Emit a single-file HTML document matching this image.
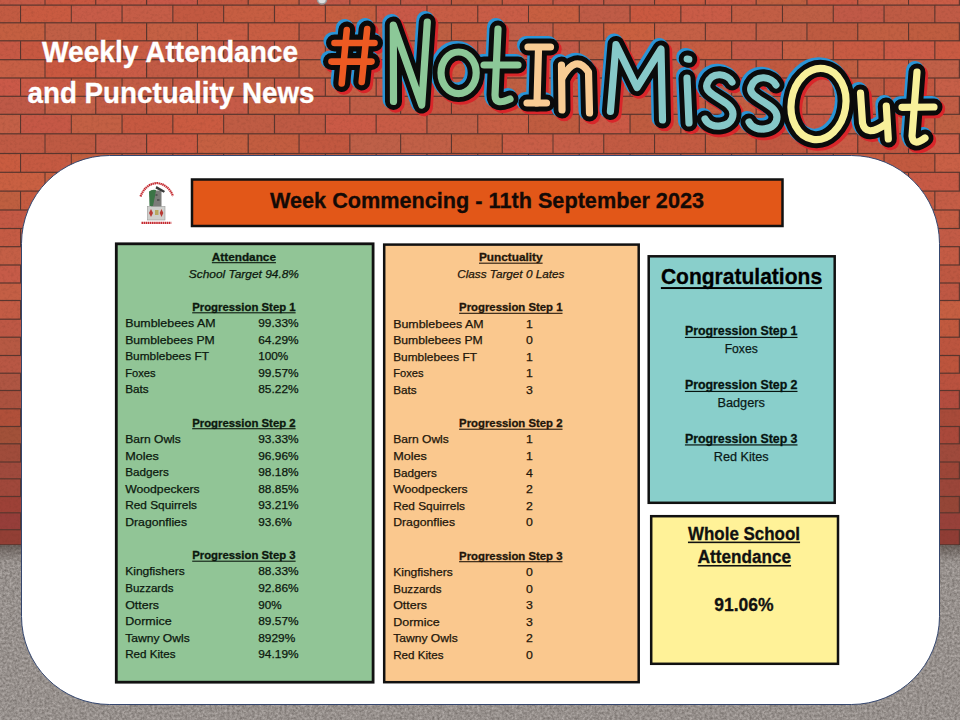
<!DOCTYPE html>
<html><head><meta charset="utf-8">
<style>
html,body{margin:0;padding:0;width:960px;height:720px;overflow:hidden;background:#8c8480}
svg{display:block}
text{font-family:"Liberation Sans",sans-serif}
</style></head><body>
<svg width="960" height="720" viewBox="0 0 960 720">
<defs>
<filter id="noise" x="0" y="0" width="100%" height="100%" color-interpolation-filters="sRGB">
<feTurbulence type="fractalNoise" baseFrequency="0.4" numOctaves="4" seed="5" result="n"/>
<feColorMatrix type="matrix" values="0.32 0 0 0 0.43  0.32 0 0 0 0.405  0.32 0 0 0 0.39  0 0 0 0 1"/>
</filter>
<filter id="bnoise" x="0" y="0" width="100%" height="100%" color-interpolation-filters="sRGB">
<feTurbulence type="fractalNoise" baseFrequency="0.35" numOctaves="3" seed="11"/>
<feColorMatrix type="matrix" values="0 0 0 0 0.42  0 0 0 0 0.2  0 0 0 0 0.14  2.2 0 0 0 -1.0"/>
</filter>
</defs>
<rect x="0" y="0" width="960" height="546" fill="#5a362e"/>
<rect x="-5.2" y="-12.7" width="49.7" height="17.2" fill="rgb(195,90,70)"/><rect x="45.5" y="-12.7" width="49.7" height="17.2" fill="rgb(200,88,65)"/><rect x="96.3" y="-12.7" width="49.7" height="17.2" fill="rgb(198,89,69)"/><rect x="147.2" y="-12.7" width="49.7" height="17.2" fill="rgb(199,88,72)"/><rect x="197.9" y="-12.7" width="49.7" height="17.2" fill="rgb(193,88,65)"/><rect x="248.8" y="-12.7" width="49.7" height="17.2" fill="rgb(196,94,65)"/><rect x="299.6" y="-12.7" width="49.7" height="17.2" fill="rgb(193,89,72)"/><rect x="350.4" y="-12.7" width="49.7" height="17.2" fill="rgb(196,88,65)"/><rect x="401.2" y="-12.7" width="49.7" height="17.2" fill="rgb(193,88,70)"/><rect x="452.0" y="-12.7" width="49.7" height="17.2" fill="rgb(190,91,64)"/><rect x="502.8" y="-12.7" width="49.7" height="17.2" fill="rgb(198,90,68)"/><rect x="553.5" y="-12.7" width="49.7" height="17.2" fill="rgb(196,90,72)"/><rect x="604.3" y="-12.7" width="49.7" height="17.2" fill="rgb(191,92,72)"/><rect x="655.1" y="-12.7" width="49.7" height="17.2" fill="rgb(200,90,65)"/><rect x="705.9" y="-12.7" width="49.7" height="17.2" fill="rgb(199,91,69)"/><rect x="756.7" y="-12.7" width="49.7" height="17.2" fill="rgb(191,96,65)"/><rect x="807.5" y="-12.7" width="49.7" height="17.2" fill="rgb(199,88,67)"/><rect x="858.3" y="-12.7" width="49.7" height="17.2" fill="rgb(197,96,70)"/><rect x="909.1" y="-12.7" width="49.7" height="17.2" fill="rgb(202,93,71)"/><rect x="959.9" y="-12.7" width="49.7" height="17.2" fill="rgb(199,95,69)"/><rect x="-29.7" y="5.7" width="49.7" height="16.5" fill="rgb(194,91,66)"/><rect x="21.1" y="5.7" width="49.7" height="16.5" fill="rgb(201,91,65)"/><rect x="71.8" y="5.7" width="49.7" height="16.5" fill="rgb(199,92,72)"/><rect x="122.6" y="5.7" width="49.7" height="16.5" fill="rgb(197,93,71)"/><rect x="173.4" y="5.7" width="49.7" height="16.5" fill="rgb(194,89,65)"/><rect x="224.2" y="5.7" width="49.7" height="16.5" fill="rgb(198,94,66)"/><rect x="275.1" y="5.7" width="49.7" height="16.5" fill="rgb(202,93,66)"/><rect x="325.9" y="5.7" width="49.7" height="16.5" fill="rgb(197,94,64)"/><rect x="376.7" y="5.7" width="49.7" height="16.5" fill="rgb(200,89,72)"/><rect x="427.5" y="5.7" width="49.7" height="16.5" fill="rgb(199,93,69)"/><rect x="478.3" y="5.7" width="49.7" height="16.5" fill="rgb(201,93,71)"/><rect x="529.0" y="5.7" width="49.7" height="16.5" fill="rgb(199,95,65)"/><rect x="579.8" y="5.7" width="49.7" height="16.5" fill="rgb(191,92,71)"/><rect x="630.6" y="5.7" width="49.7" height="16.5" fill="rgb(201,89,64)"/><rect x="681.4" y="5.7" width="49.7" height="16.5" fill="rgb(201,92,71)"/><rect x="732.2" y="5.7" width="49.7" height="16.5" fill="rgb(194,94,69)"/><rect x="783.0" y="5.7" width="49.7" height="16.5" fill="rgb(190,95,69)"/><rect x="833.8" y="5.7" width="49.7" height="16.5" fill="rgb(192,89,71)"/><rect x="884.6" y="5.7" width="49.7" height="16.5" fill="rgb(190,91,68)"/><rect x="935.4" y="5.7" width="49.7" height="16.5" fill="rgb(192,91,70)"/><rect x="-5.2" y="23.4" width="49.7" height="16.8" fill="rgb(196,95,65)"/><rect x="45.5" y="23.4" width="49.7" height="16.8" fill="rgb(192,95,70)"/><rect x="96.3" y="23.4" width="49.7" height="16.8" fill="rgb(198,92,66)"/><rect x="147.2" y="23.4" width="49.7" height="16.8" fill="rgb(196,96,68)"/><rect x="197.9" y="23.4" width="49.7" height="16.8" fill="rgb(201,94,69)"/><rect x="248.8" y="23.4" width="49.7" height="16.8" fill="rgb(200,94,67)"/><rect x="299.6" y="23.4" width="49.7" height="16.8" fill="rgb(192,89,66)"/><rect x="350.4" y="23.4" width="49.7" height="16.8" fill="rgb(192,91,67)"/><rect x="401.2" y="23.4" width="49.7" height="16.8" fill="rgb(190,95,66)"/><rect x="452.0" y="23.4" width="49.7" height="16.8" fill="rgb(194,92,64)"/><rect x="502.8" y="23.4" width="49.7" height="16.8" fill="rgb(192,94,72)"/><rect x="553.5" y="23.4" width="49.7" height="16.8" fill="rgb(195,93,66)"/><rect x="604.3" y="23.4" width="49.7" height="16.8" fill="rgb(201,96,64)"/><rect x="655.1" y="23.4" width="49.7" height="16.8" fill="rgb(197,96,70)"/><rect x="705.9" y="23.4" width="49.7" height="16.8" fill="rgb(196,94,70)"/><rect x="756.7" y="23.4" width="49.7" height="16.8" fill="rgb(191,95,70)"/><rect x="807.5" y="23.4" width="49.7" height="16.8" fill="rgb(190,91,65)"/><rect x="858.3" y="23.4" width="49.7" height="16.8" fill="rgb(193,95,66)"/><rect x="909.1" y="23.4" width="49.7" height="16.8" fill="rgb(191,93,64)"/><rect x="959.9" y="23.4" width="49.7" height="16.8" fill="rgb(191,88,66)"/><rect x="-29.7" y="41.4" width="49.7" height="17.7" fill="rgb(198,89,69)"/><rect x="21.1" y="41.4" width="49.7" height="17.7" fill="rgb(199,88,65)"/><rect x="71.8" y="41.4" width="49.7" height="17.7" fill="rgb(193,94,66)"/><rect x="122.6" y="41.4" width="49.7" height="17.7" fill="rgb(200,92,69)"/><rect x="173.4" y="41.4" width="49.7" height="17.7" fill="rgb(199,93,71)"/><rect x="224.2" y="41.4" width="49.7" height="17.7" fill="rgb(191,89,71)"/><rect x="275.1" y="41.4" width="49.7" height="17.7" fill="rgb(197,95,71)"/><rect x="325.9" y="41.4" width="49.7" height="17.7" fill="rgb(194,89,66)"/><rect x="376.7" y="41.4" width="49.7" height="17.7" fill="rgb(191,93,68)"/><rect x="427.5" y="41.4" width="49.7" height="17.7" fill="rgb(197,90,72)"/><rect x="478.3" y="41.4" width="49.7" height="17.7" fill="rgb(190,91,72)"/><rect x="529.0" y="41.4" width="49.7" height="17.7" fill="rgb(195,90,72)"/><rect x="579.8" y="41.4" width="49.7" height="17.7" fill="rgb(190,96,68)"/><rect x="630.6" y="41.4" width="49.7" height="17.7" fill="rgb(200,89,68)"/><rect x="681.4" y="41.4" width="49.7" height="17.7" fill="rgb(198,93,66)"/><rect x="732.2" y="41.4" width="49.7" height="17.7" fill="rgb(195,91,72)"/><rect x="783.0" y="41.4" width="49.7" height="17.7" fill="rgb(198,96,69)"/><rect x="833.8" y="41.4" width="49.7" height="17.7" fill="rgb(200,91,67)"/><rect x="884.6" y="41.4" width="49.7" height="17.7" fill="rgb(202,91,70)"/><rect x="935.4" y="41.4" width="49.7" height="17.7" fill="rgb(201,91,67)"/><rect x="-5.2" y="60.3" width="49.7" height="17.1" fill="rgb(198,95,69)"/><rect x="45.5" y="60.3" width="49.7" height="17.1" fill="rgb(201,88,64)"/><rect x="96.3" y="60.3" width="49.7" height="17.1" fill="rgb(202,92,71)"/><rect x="147.2" y="60.3" width="49.7" height="17.1" fill="rgb(194,91,69)"/><rect x="197.9" y="60.3" width="49.7" height="17.1" fill="rgb(197,93,69)"/><rect x="248.8" y="60.3" width="49.7" height="17.1" fill="rgb(191,91,65)"/><rect x="299.6" y="60.3" width="49.7" height="17.1" fill="rgb(193,95,67)"/><rect x="350.4" y="60.3" width="49.7" height="17.1" fill="rgb(195,91,71)"/><rect x="401.2" y="60.3" width="49.7" height="17.1" fill="rgb(199,88,71)"/><rect x="452.0" y="60.3" width="49.7" height="17.1" fill="rgb(200,93,65)"/><rect x="502.8" y="60.3" width="49.7" height="17.1" fill="rgb(200,89,70)"/><rect x="553.5" y="60.3" width="49.7" height="17.1" fill="rgb(202,91,71)"/><rect x="604.3" y="60.3" width="49.7" height="17.1" fill="rgb(192,94,69)"/><rect x="655.1" y="60.3" width="49.7" height="17.1" fill="rgb(191,94,71)"/><rect x="705.9" y="60.3" width="49.7" height="17.1" fill="rgb(196,89,66)"/><rect x="756.7" y="60.3" width="49.7" height="17.1" fill="rgb(192,90,64)"/><rect x="807.5" y="60.3" width="49.7" height="17.1" fill="rgb(192,95,66)"/><rect x="858.3" y="60.3" width="49.7" height="17.1" fill="rgb(199,95,69)"/><rect x="909.1" y="60.3" width="49.7" height="17.1" fill="rgb(192,96,72)"/><rect x="959.9" y="60.3" width="49.7" height="17.1" fill="rgb(192,88,64)"/><rect x="-29.7" y="78.6" width="49.7" height="17.1" fill="rgb(202,89,72)"/><rect x="21.1" y="78.6" width="49.7" height="17.1" fill="rgb(201,90,70)"/><rect x="71.8" y="78.6" width="49.7" height="17.1" fill="rgb(193,91,64)"/><rect x="122.6" y="78.6" width="49.7" height="17.1" fill="rgb(194,91,68)"/><rect x="173.4" y="78.6" width="49.7" height="17.1" fill="rgb(198,91,69)"/><rect x="224.2" y="78.6" width="49.7" height="17.1" fill="rgb(194,96,70)"/><rect x="275.1" y="78.6" width="49.7" height="17.1" fill="rgb(192,88,69)"/><rect x="325.9" y="78.6" width="49.7" height="17.1" fill="rgb(197,96,70)"/><rect x="376.7" y="78.6" width="49.7" height="17.1" fill="rgb(198,90,72)"/><rect x="427.5" y="78.6" width="49.7" height="17.1" fill="rgb(192,96,72)"/><rect x="478.3" y="78.6" width="49.7" height="17.1" fill="rgb(190,95,66)"/><rect x="529.0" y="78.6" width="49.7" height="17.1" fill="rgb(199,88,66)"/><rect x="579.8" y="78.6" width="49.7" height="17.1" fill="rgb(192,90,71)"/><rect x="630.6" y="78.6" width="49.7" height="17.1" fill="rgb(199,89,72)"/><rect x="681.4" y="78.6" width="49.7" height="17.1" fill="rgb(190,93,72)"/><rect x="732.2" y="78.6" width="49.7" height="17.1" fill="rgb(198,96,71)"/><rect x="783.0" y="78.6" width="49.7" height="17.1" fill="rgb(202,89,72)"/><rect x="833.8" y="78.6" width="49.7" height="17.1" fill="rgb(190,91,67)"/><rect x="884.6" y="78.6" width="49.7" height="17.1" fill="rgb(194,88,65)"/><rect x="935.4" y="78.6" width="49.7" height="17.1" fill="rgb(198,95,72)"/><rect x="-5.2" y="96.9" width="49.7" height="16.8" fill="rgb(190,89,71)"/><rect x="45.5" y="96.9" width="49.7" height="16.8" fill="rgb(195,96,72)"/><rect x="96.3" y="96.9" width="49.7" height="16.8" fill="rgb(193,92,71)"/><rect x="147.2" y="96.9" width="49.7" height="16.8" fill="rgb(198,96,71)"/><rect x="197.9" y="96.9" width="49.7" height="16.8" fill="rgb(198,91,72)"/><rect x="248.8" y="96.9" width="49.7" height="16.8" fill="rgb(194,96,67)"/><rect x="299.6" y="96.9" width="49.7" height="16.8" fill="rgb(197,90,70)"/><rect x="350.4" y="96.9" width="49.7" height="16.8" fill="rgb(191,94,71)"/><rect x="401.2" y="96.9" width="49.7" height="16.8" fill="rgb(195,89,67)"/><rect x="452.0" y="96.9" width="49.7" height="16.8" fill="rgb(196,89,67)"/><rect x="502.8" y="96.9" width="49.7" height="16.8" fill="rgb(200,92,65)"/><rect x="553.5" y="96.9" width="49.7" height="16.8" fill="rgb(202,90,69)"/><rect x="604.3" y="96.9" width="49.7" height="16.8" fill="rgb(192,92,66)"/><rect x="655.1" y="96.9" width="49.7" height="16.8" fill="rgb(197,91,65)"/><rect x="705.9" y="96.9" width="49.7" height="16.8" fill="rgb(196,95,66)"/><rect x="756.7" y="96.9" width="49.7" height="16.8" fill="rgb(200,91,66)"/><rect x="807.5" y="96.9" width="49.7" height="16.8" fill="rgb(201,94,72)"/><rect x="858.3" y="96.9" width="49.7" height="16.8" fill="rgb(196,93,70)"/><rect x="909.1" y="96.9" width="49.7" height="16.8" fill="rgb(193,93,69)"/><rect x="959.9" y="96.9" width="49.7" height="16.8" fill="rgb(191,93,64)"/><rect x="-29.7" y="114.9" width="49.7" height="18.3" fill="rgb(195,96,71)"/><rect x="21.1" y="114.9" width="49.7" height="18.3" fill="rgb(197,88,70)"/><rect x="71.8" y="114.9" width="49.7" height="18.3" fill="rgb(195,96,68)"/><rect x="122.6" y="114.9" width="49.7" height="18.3" fill="rgb(198,89,65)"/><rect x="173.4" y="114.9" width="49.7" height="18.3" fill="rgb(202,91,65)"/><rect x="224.2" y="114.9" width="49.7" height="18.3" fill="rgb(191,92,68)"/><rect x="275.1" y="114.9" width="49.7" height="18.3" fill="rgb(190,90,68)"/><rect x="325.9" y="114.9" width="49.7" height="18.3" fill="rgb(202,90,70)"/><rect x="376.7" y="114.9" width="49.7" height="18.3" fill="rgb(200,92,70)"/><rect x="427.5" y="114.9" width="49.7" height="18.3" fill="rgb(192,96,72)"/><rect x="478.3" y="114.9" width="49.7" height="18.3" fill="rgb(199,95,69)"/><rect x="529.0" y="114.9" width="49.7" height="18.3" fill="rgb(191,92,64)"/><rect x="579.8" y="114.9" width="49.7" height="18.3" fill="rgb(202,90,70)"/><rect x="630.6" y="114.9" width="49.7" height="18.3" fill="rgb(191,92,64)"/><rect x="681.4" y="114.9" width="49.7" height="18.3" fill="rgb(200,89,68)"/><rect x="732.2" y="114.9" width="49.7" height="18.3" fill="rgb(191,91,65)"/><rect x="783.0" y="114.9" width="49.7" height="18.3" fill="rgb(194,89,71)"/><rect x="833.8" y="114.9" width="49.7" height="18.3" fill="rgb(190,93,72)"/><rect x="884.6" y="114.9" width="49.7" height="18.3" fill="rgb(196,92,66)"/><rect x="935.4" y="114.9" width="49.7" height="18.3" fill="rgb(190,96,67)"/><rect x="-5.2" y="134.4" width="49.7" height="18.5" fill="rgb(191,90,68)"/><rect x="45.5" y="134.4" width="49.7" height="18.5" fill="rgb(190,90,67)"/><rect x="96.3" y="134.4" width="49.7" height="18.5" fill="rgb(194,92,72)"/><rect x="147.2" y="134.4" width="49.7" height="18.5" fill="rgb(202,91,68)"/><rect x="197.9" y="134.4" width="49.7" height="18.5" fill="rgb(197,96,66)"/><rect x="248.8" y="134.4" width="49.7" height="18.5" fill="rgb(194,93,64)"/><rect x="299.6" y="134.4" width="49.7" height="18.5" fill="rgb(194,88,64)"/><rect x="350.4" y="134.4" width="49.7" height="18.5" fill="rgb(190,96,72)"/><rect x="401.2" y="134.4" width="49.7" height="18.5" fill="rgb(193,96,71)"/><rect x="452.0" y="134.4" width="49.7" height="18.5" fill="rgb(193,95,65)"/><rect x="502.8" y="134.4" width="49.7" height="18.5" fill="rgb(200,94,71)"/><rect x="553.5" y="134.4" width="49.7" height="18.5" fill="rgb(198,94,72)"/><rect x="604.3" y="134.4" width="49.7" height="18.5" fill="rgb(194,91,67)"/><rect x="655.1" y="134.4" width="49.7" height="18.5" fill="rgb(195,91,66)"/><rect x="705.9" y="134.4" width="49.7" height="18.5" fill="rgb(196,93,64)"/><rect x="756.7" y="134.4" width="49.7" height="18.5" fill="rgb(192,88,65)"/><rect x="807.5" y="134.4" width="49.7" height="18.5" fill="rgb(200,92,70)"/><rect x="858.3" y="134.4" width="49.7" height="18.5" fill="rgb(192,88,65)"/><rect x="909.1" y="134.4" width="49.7" height="18.5" fill="rgb(200,94,72)"/><rect x="959.9" y="134.4" width="49.7" height="18.5" fill="rgb(200,92,67)"/><rect x="-29.7" y="154.1" width="49.7" height="17.6" fill="rgb(201,92,64)"/><rect x="21.1" y="154.1" width="49.7" height="17.6" fill="rgb(197,90,66)"/><rect x="71.8" y="154.1" width="49.7" height="17.6" fill="rgb(194,95,64)"/><rect x="122.6" y="154.1" width="49.7" height="17.6" fill="rgb(194,93,69)"/><rect x="173.4" y="154.1" width="49.7" height="17.6" fill="rgb(198,93,67)"/><rect x="224.2" y="154.1" width="49.7" height="17.6" fill="rgb(190,92,67)"/><rect x="275.1" y="154.1" width="49.7" height="17.6" fill="rgb(195,90,64)"/><rect x="325.9" y="154.1" width="49.7" height="17.6" fill="rgb(195,94,65)"/><rect x="376.7" y="154.1" width="49.7" height="17.6" fill="rgb(197,92,72)"/><rect x="427.5" y="154.1" width="49.7" height="17.6" fill="rgb(200,91,67)"/><rect x="478.3" y="154.1" width="49.7" height="17.6" fill="rgb(198,88,65)"/><rect x="529.0" y="154.1" width="49.7" height="17.6" fill="rgb(194,89,66)"/><rect x="579.8" y="154.1" width="49.7" height="17.6" fill="rgb(196,88,70)"/><rect x="630.6" y="154.1" width="49.7" height="17.6" fill="rgb(190,92,68)"/><rect x="681.4" y="154.1" width="49.7" height="17.6" fill="rgb(200,91,65)"/><rect x="732.2" y="154.1" width="49.7" height="17.6" fill="rgb(199,96,66)"/><rect x="783.0" y="154.1" width="49.7" height="17.6" fill="rgb(200,94,69)"/><rect x="833.8" y="154.1" width="49.7" height="17.6" fill="rgb(201,95,66)"/><rect x="884.6" y="154.1" width="49.7" height="17.6" fill="rgb(194,90,64)"/><rect x="935.4" y="154.1" width="49.7" height="17.6" fill="rgb(201,96,70)"/><rect x="-5.2" y="172.9" width="49.7" height="17.6" fill="rgb(201,96,66)"/><rect x="45.5" y="172.9" width="49.7" height="17.6" fill="rgb(198,96,64)"/><rect x="96.3" y="172.9" width="49.7" height="17.6" fill="rgb(200,91,65)"/><rect x="147.2" y="172.9" width="49.7" height="17.6" fill="rgb(190,88,66)"/><rect x="197.9" y="172.9" width="49.7" height="17.6" fill="rgb(200,93,65)"/><rect x="248.8" y="172.9" width="49.7" height="17.6" fill="rgb(196,95,72)"/><rect x="299.6" y="172.9" width="49.7" height="17.6" fill="rgb(190,88,72)"/><rect x="350.4" y="172.9" width="49.7" height="17.6" fill="rgb(200,91,71)"/><rect x="401.2" y="172.9" width="49.7" height="17.6" fill="rgb(194,88,71)"/><rect x="452.0" y="172.9" width="49.7" height="17.6" fill="rgb(202,89,72)"/><rect x="502.8" y="172.9" width="49.7" height="17.6" fill="rgb(198,89,72)"/><rect x="553.5" y="172.9" width="49.7" height="17.6" fill="rgb(191,95,68)"/><rect x="604.3" y="172.9" width="49.7" height="17.6" fill="rgb(202,89,68)"/><rect x="655.1" y="172.9" width="49.7" height="17.6" fill="rgb(193,91,67)"/><rect x="705.9" y="172.9" width="49.7" height="17.6" fill="rgb(201,95,71)"/><rect x="756.7" y="172.9" width="49.7" height="17.6" fill="rgb(196,89,71)"/><rect x="807.5" y="172.9" width="49.7" height="17.6" fill="rgb(200,92,64)"/><rect x="858.3" y="172.9" width="49.7" height="17.6" fill="rgb(199,91,65)"/><rect x="909.1" y="172.9" width="49.7" height="17.6" fill="rgb(199,90,69)"/><rect x="959.9" y="172.9" width="49.7" height="17.6" fill="rgb(194,92,66)"/><rect x="-29.7" y="191.7" width="49.7" height="17.7" fill="rgb(190,95,64)"/><rect x="21.1" y="191.7" width="49.7" height="17.7" fill="rgb(197,92,65)"/><rect x="71.8" y="191.7" width="49.7" height="17.7" fill="rgb(201,91,71)"/><rect x="122.6" y="191.7" width="49.7" height="17.7" fill="rgb(194,96,68)"/><rect x="173.4" y="191.7" width="49.7" height="17.7" fill="rgb(197,95,71)"/><rect x="224.2" y="191.7" width="49.7" height="17.7" fill="rgb(202,89,72)"/><rect x="275.1" y="191.7" width="49.7" height="17.7" fill="rgb(193,92,65)"/><rect x="325.9" y="191.7" width="49.7" height="17.7" fill="rgb(197,88,68)"/><rect x="376.7" y="191.7" width="49.7" height="17.7" fill="rgb(197,89,72)"/><rect x="427.5" y="191.7" width="49.7" height="17.7" fill="rgb(197,92,70)"/><rect x="478.3" y="191.7" width="49.7" height="17.7" fill="rgb(193,91,65)"/><rect x="529.0" y="191.7" width="49.7" height="17.7" fill="rgb(199,89,66)"/><rect x="579.8" y="191.7" width="49.7" height="17.7" fill="rgb(201,96,68)"/><rect x="630.6" y="191.7" width="49.7" height="17.7" fill="rgb(195,90,72)"/><rect x="681.4" y="191.7" width="49.7" height="17.7" fill="rgb(194,89,69)"/><rect x="732.2" y="191.7" width="49.7" height="17.7" fill="rgb(193,95,71)"/><rect x="783.0" y="191.7" width="49.7" height="17.7" fill="rgb(196,88,66)"/><rect x="833.8" y="191.7" width="49.7" height="17.7" fill="rgb(190,95,71)"/><rect x="884.6" y="191.7" width="49.7" height="17.7" fill="rgb(196,92,66)"/><rect x="935.4" y="191.7" width="49.7" height="17.7" fill="rgb(196,93,70)"/><rect x="-5.2" y="210.6" width="49.7" height="17.3" fill="rgb(195,89,69)"/><rect x="45.5" y="210.6" width="49.7" height="17.3" fill="rgb(190,93,69)"/><rect x="96.3" y="210.6" width="49.7" height="17.3" fill="rgb(196,89,67)"/><rect x="147.2" y="210.6" width="49.7" height="17.3" fill="rgb(201,88,68)"/><rect x="197.9" y="210.6" width="49.7" height="17.3" fill="rgb(194,93,65)"/><rect x="248.8" y="210.6" width="49.7" height="17.3" fill="rgb(196,94,65)"/><rect x="299.6" y="210.6" width="49.7" height="17.3" fill="rgb(195,94,68)"/><rect x="350.4" y="210.6" width="49.7" height="17.3" fill="rgb(190,92,65)"/><rect x="401.2" y="210.6" width="49.7" height="17.3" fill="rgb(190,92,66)"/><rect x="452.0" y="210.6" width="49.7" height="17.3" fill="rgb(193,92,70)"/><rect x="502.8" y="210.6" width="49.7" height="17.3" fill="rgb(198,93,67)"/><rect x="553.5" y="210.6" width="49.7" height="17.3" fill="rgb(202,93,70)"/><rect x="604.3" y="210.6" width="49.7" height="17.3" fill="rgb(190,94,72)"/><rect x="655.1" y="210.6" width="49.7" height="17.3" fill="rgb(198,91,65)"/><rect x="705.9" y="210.6" width="49.7" height="17.3" fill="rgb(190,94,71)"/><rect x="756.7" y="210.6" width="49.7" height="17.3" fill="rgb(199,90,68)"/><rect x="807.5" y="210.6" width="49.7" height="17.3" fill="rgb(197,88,72)"/><rect x="858.3" y="210.6" width="49.7" height="17.3" fill="rgb(192,90,71)"/><rect x="909.1" y="210.6" width="49.7" height="17.3" fill="rgb(196,93,68)"/><rect x="959.9" y="210.6" width="49.7" height="17.3" fill="rgb(194,92,68)"/><rect x="-29.7" y="229.1" width="49.7" height="17.0" fill="rgb(196,91,68)"/><rect x="21.1" y="229.1" width="49.7" height="17.0" fill="rgb(197,96,70)"/><rect x="71.8" y="229.1" width="49.7" height="17.0" fill="rgb(191,90,66)"/><rect x="122.6" y="229.1" width="49.7" height="17.0" fill="rgb(191,91,72)"/><rect x="173.4" y="229.1" width="49.7" height="17.0" fill="rgb(202,95,72)"/><rect x="224.2" y="229.1" width="49.7" height="17.0" fill="rgb(193,95,69)"/><rect x="275.1" y="229.1" width="49.7" height="17.0" fill="rgb(202,95,70)"/><rect x="325.9" y="229.1" width="49.7" height="17.0" fill="rgb(192,96,67)"/><rect x="376.7" y="229.1" width="49.7" height="17.0" fill="rgb(193,89,66)"/><rect x="427.5" y="229.1" width="49.7" height="17.0" fill="rgb(195,96,65)"/><rect x="478.3" y="229.1" width="49.7" height="17.0" fill="rgb(195,91,69)"/><rect x="529.0" y="229.1" width="49.7" height="17.0" fill="rgb(194,91,64)"/><rect x="579.8" y="229.1" width="49.7" height="17.0" fill="rgb(201,94,70)"/><rect x="630.6" y="229.1" width="49.7" height="17.0" fill="rgb(196,96,67)"/><rect x="681.4" y="229.1" width="49.7" height="17.0" fill="rgb(196,92,69)"/><rect x="732.2" y="229.1" width="49.7" height="17.0" fill="rgb(202,88,71)"/><rect x="783.0" y="229.1" width="49.7" height="17.0" fill="rgb(194,93,66)"/><rect x="833.8" y="229.1" width="49.7" height="17.0" fill="rgb(200,96,72)"/><rect x="884.6" y="229.1" width="49.7" height="17.0" fill="rgb(200,91,65)"/><rect x="935.4" y="229.1" width="49.7" height="17.0" fill="rgb(194,91,70)"/><rect x="-5.2" y="247.3" width="49.7" height="17.1" fill="rgb(196,95,70)"/><rect x="45.5" y="247.3" width="49.7" height="17.1" fill="rgb(194,88,66)"/><rect x="96.3" y="247.3" width="49.7" height="17.1" fill="rgb(190,94,71)"/><rect x="147.2" y="247.3" width="49.7" height="17.1" fill="rgb(199,95,64)"/><rect x="197.9" y="247.3" width="49.7" height="17.1" fill="rgb(191,94,72)"/><rect x="248.8" y="247.3" width="49.7" height="17.1" fill="rgb(197,95,67)"/><rect x="299.6" y="247.3" width="49.7" height="17.1" fill="rgb(202,89,67)"/><rect x="350.4" y="247.3" width="49.7" height="17.1" fill="rgb(192,90,72)"/><rect x="401.2" y="247.3" width="49.7" height="17.1" fill="rgb(200,89,71)"/><rect x="452.0" y="247.3" width="49.7" height="17.1" fill="rgb(191,96,64)"/><rect x="502.8" y="247.3" width="49.7" height="17.1" fill="rgb(190,90,67)"/><rect x="553.5" y="247.3" width="49.7" height="17.1" fill="rgb(199,88,68)"/><rect x="604.3" y="247.3" width="49.7" height="17.1" fill="rgb(192,92,72)"/><rect x="655.1" y="247.3" width="49.7" height="17.1" fill="rgb(200,94,65)"/><rect x="705.9" y="247.3" width="49.7" height="17.1" fill="rgb(191,89,68)"/><rect x="756.7" y="247.3" width="49.7" height="17.1" fill="rgb(198,91,70)"/><rect x="807.5" y="247.3" width="49.7" height="17.1" fill="rgb(194,91,64)"/><rect x="858.3" y="247.3" width="49.7" height="17.1" fill="rgb(190,96,68)"/><rect x="909.1" y="247.3" width="49.7" height="17.1" fill="rgb(197,92,69)"/><rect x="959.9" y="247.3" width="49.7" height="17.1" fill="rgb(200,91,71)"/><rect x="-29.7" y="265.6" width="49.7" height="16.8" fill="rgb(198,91,72)"/><rect x="21.1" y="265.6" width="49.7" height="16.8" fill="rgb(193,88,70)"/><rect x="71.8" y="265.6" width="49.7" height="16.8" fill="rgb(201,92,64)"/><rect x="122.6" y="265.6" width="49.7" height="16.8" fill="rgb(190,91,71)"/><rect x="173.4" y="265.6" width="49.7" height="16.8" fill="rgb(200,94,65)"/><rect x="224.2" y="265.6" width="49.7" height="16.8" fill="rgb(194,91,70)"/><rect x="275.1" y="265.6" width="49.7" height="16.8" fill="rgb(195,91,71)"/><rect x="325.9" y="265.6" width="49.7" height="16.8" fill="rgb(190,93,70)"/><rect x="376.7" y="265.6" width="49.7" height="16.8" fill="rgb(195,94,67)"/><rect x="427.5" y="265.6" width="49.7" height="16.8" fill="rgb(190,92,72)"/><rect x="478.3" y="265.6" width="49.7" height="16.8" fill="rgb(191,91,71)"/><rect x="529.0" y="265.6" width="49.7" height="16.8" fill="rgb(193,92,67)"/><rect x="579.8" y="265.6" width="49.7" height="16.8" fill="rgb(193,95,67)"/><rect x="630.6" y="265.6" width="49.7" height="16.8" fill="rgb(194,92,65)"/><rect x="681.4" y="265.6" width="49.7" height="16.8" fill="rgb(199,95,66)"/><rect x="732.2" y="265.6" width="49.7" height="16.8" fill="rgb(193,95,70)"/><rect x="783.0" y="265.6" width="49.7" height="16.8" fill="rgb(200,88,66)"/><rect x="833.8" y="265.6" width="49.7" height="16.8" fill="rgb(196,88,67)"/><rect x="884.6" y="265.6" width="49.7" height="16.8" fill="rgb(190,90,70)"/><rect x="935.4" y="265.6" width="49.7" height="16.8" fill="rgb(190,88,66)"/><rect x="-5.2" y="283.6" width="49.7" height="16.3" fill="rgb(196,95,69)"/><rect x="45.5" y="283.6" width="49.7" height="16.3" fill="rgb(201,89,65)"/><rect x="96.3" y="283.6" width="49.7" height="16.3" fill="rgb(192,93,67)"/><rect x="147.2" y="283.6" width="49.7" height="16.3" fill="rgb(192,96,71)"/><rect x="197.9" y="283.6" width="49.7" height="16.3" fill="rgb(190,92,70)"/><rect x="248.8" y="283.6" width="49.7" height="16.3" fill="rgb(195,93,71)"/><rect x="299.6" y="283.6" width="49.7" height="16.3" fill="rgb(192,89,64)"/><rect x="350.4" y="283.6" width="49.7" height="16.3" fill="rgb(191,92,65)"/><rect x="401.2" y="283.6" width="49.7" height="16.3" fill="rgb(195,94,65)"/><rect x="452.0" y="283.6" width="49.7" height="16.3" fill="rgb(198,91,70)"/><rect x="502.8" y="283.6" width="49.7" height="16.3" fill="rgb(195,92,70)"/><rect x="553.5" y="283.6" width="49.7" height="16.3" fill="rgb(191,88,71)"/><rect x="604.3" y="283.6" width="49.7" height="16.3" fill="rgb(193,93,72)"/><rect x="655.1" y="283.6" width="49.7" height="16.3" fill="rgb(197,91,69)"/><rect x="705.9" y="283.6" width="49.7" height="16.3" fill="rgb(195,95,64)"/><rect x="756.7" y="283.6" width="49.7" height="16.3" fill="rgb(200,94,67)"/><rect x="807.5" y="283.6" width="49.7" height="16.3" fill="rgb(202,94,64)"/><rect x="858.3" y="283.6" width="49.7" height="16.3" fill="rgb(196,88,71)"/><rect x="909.1" y="283.6" width="49.7" height="16.3" fill="rgb(191,88,68)"/><rect x="959.9" y="283.6" width="49.7" height="16.3" fill="rgb(193,89,69)"/><rect x="-29.7" y="301.1" width="49.7" height="17.5" fill="rgb(195,92,69)"/><rect x="21.1" y="301.1" width="49.7" height="17.5" fill="rgb(199,88,68)"/><rect x="71.8" y="301.1" width="49.7" height="17.5" fill="rgb(201,93,68)"/><rect x="122.6" y="301.1" width="49.7" height="17.5" fill="rgb(194,88,65)"/><rect x="173.4" y="301.1" width="49.7" height="17.5" fill="rgb(190,91,65)"/><rect x="224.2" y="301.1" width="49.7" height="17.5" fill="rgb(197,95,70)"/><rect x="275.1" y="301.1" width="49.7" height="17.5" fill="rgb(202,92,70)"/><rect x="325.9" y="301.1" width="49.7" height="17.5" fill="rgb(197,90,71)"/><rect x="376.7" y="301.1" width="49.7" height="17.5" fill="rgb(192,88,68)"/><rect x="427.5" y="301.1" width="49.7" height="17.5" fill="rgb(201,90,67)"/><rect x="478.3" y="301.1" width="49.7" height="17.5" fill="rgb(195,93,71)"/><rect x="529.0" y="301.1" width="49.7" height="17.5" fill="rgb(195,89,72)"/><rect x="579.8" y="301.1" width="49.7" height="17.5" fill="rgb(193,94,66)"/><rect x="630.6" y="301.1" width="49.7" height="17.5" fill="rgb(193,94,65)"/><rect x="681.4" y="301.1" width="49.7" height="17.5" fill="rgb(200,88,71)"/><rect x="732.2" y="301.1" width="49.7" height="17.5" fill="rgb(198,96,69)"/><rect x="783.0" y="301.1" width="49.7" height="17.5" fill="rgb(192,94,65)"/><rect x="833.8" y="301.1" width="49.7" height="17.5" fill="rgb(191,92,65)"/><rect x="884.6" y="301.1" width="49.7" height="17.5" fill="rgb(193,89,70)"/><rect x="935.4" y="301.1" width="49.7" height="17.5" fill="rgb(197,95,66)"/><rect x="-5.2" y="319.8" width="49.7" height="16.8" fill="rgb(189,88,69)"/><rect x="45.5" y="319.8" width="49.7" height="16.8" fill="rgb(193,89,71)"/><rect x="96.3" y="319.8" width="49.7" height="16.8" fill="rgb(198,87,67)"/><rect x="147.2" y="319.8" width="49.7" height="16.8" fill="rgb(190,90,67)"/><rect x="197.9" y="319.8" width="49.7" height="16.8" fill="rgb(191,90,67)"/><rect x="248.8" y="319.8" width="49.7" height="16.8" fill="rgb(189,93,66)"/><rect x="299.6" y="319.8" width="49.7" height="16.8" fill="rgb(188,89,66)"/><rect x="350.4" y="319.8" width="49.7" height="16.8" fill="rgb(188,90,66)"/><rect x="401.2" y="319.8" width="49.7" height="16.8" fill="rgb(191,87,69)"/><rect x="452.0" y="319.8" width="49.7" height="16.8" fill="rgb(190,89,71)"/><rect x="502.8" y="319.8" width="49.7" height="16.8" fill="rgb(194,89,64)"/><rect x="553.5" y="319.8" width="49.7" height="16.8" fill="rgb(196,93,63)"/><rect x="604.3" y="319.8" width="49.7" height="16.8" fill="rgb(187,86,70)"/><rect x="655.1" y="319.8" width="49.7" height="16.8" fill="rgb(189,93,68)"/><rect x="705.9" y="319.8" width="49.7" height="16.8" fill="rgb(186,90,66)"/><rect x="756.7" y="319.8" width="49.7" height="16.8" fill="rgb(187,86,66)"/><rect x="807.5" y="319.8" width="49.7" height="16.8" fill="rgb(195,89,64)"/><rect x="858.3" y="319.8" width="49.7" height="16.8" fill="rgb(191,94,65)"/><rect x="909.1" y="319.8" width="49.7" height="16.8" fill="rgb(193,90,63)"/><rect x="959.9" y="319.8" width="49.7" height="16.8" fill="rgb(187,91,66)"/><rect x="-29.7" y="337.8" width="49.7" height="17.1" fill="rgb(182,89,67)"/><rect x="21.1" y="337.8" width="49.7" height="17.1" fill="rgb(184,84,65)"/><rect x="71.8" y="337.8" width="49.7" height="17.1" fill="rgb(186,84,65)"/><rect x="122.6" y="337.8" width="49.7" height="17.1" fill="rgb(182,89,68)"/><rect x="173.4" y="337.8" width="49.7" height="17.1" fill="rgb(192,89,64)"/><rect x="224.2" y="337.8" width="49.7" height="17.1" fill="rgb(191,88,63)"/><rect x="275.1" y="337.8" width="49.7" height="17.1" fill="rgb(185,84,69)"/><rect x="325.9" y="337.8" width="49.7" height="17.1" fill="rgb(190,91,63)"/><rect x="376.7" y="337.8" width="49.7" height="17.1" fill="rgb(188,85,68)"/><rect x="427.5" y="337.8" width="49.7" height="17.1" fill="rgb(192,92,64)"/><rect x="478.3" y="337.8" width="49.7" height="17.1" fill="rgb(192,92,63)"/><rect x="529.0" y="337.8" width="49.7" height="17.1" fill="rgb(192,86,68)"/><rect x="579.8" y="337.8" width="49.7" height="17.1" fill="rgb(193,88,68)"/><rect x="630.6" y="337.8" width="49.7" height="17.1" fill="rgb(186,88,68)"/><rect x="681.4" y="337.8" width="49.7" height="17.1" fill="rgb(182,88,67)"/><rect x="732.2" y="337.8" width="49.7" height="17.1" fill="rgb(188,90,62)"/><rect x="783.0" y="337.8" width="49.7" height="17.1" fill="rgb(194,89,65)"/><rect x="833.8" y="337.8" width="49.7" height="17.1" fill="rgb(188,90,65)"/><rect x="884.6" y="337.8" width="49.7" height="17.1" fill="rgb(182,90,64)"/><rect x="935.4" y="337.8" width="49.7" height="17.1" fill="rgb(188,85,63)"/><rect x="-5.2" y="356.1" width="49.7" height="16.5" fill="rgb(184,87,68)"/><rect x="45.5" y="356.1" width="49.7" height="16.5" fill="rgb(190,84,63)"/><rect x="96.3" y="356.1" width="49.7" height="16.5" fill="rgb(178,82,69)"/><rect x="147.2" y="356.1" width="49.7" height="16.5" fill="rgb(180,88,62)"/><rect x="197.9" y="356.1" width="49.7" height="16.5" fill="rgb(187,87,69)"/><rect x="248.8" y="356.1" width="49.7" height="16.5" fill="rgb(180,84,66)"/><rect x="299.6" y="356.1" width="49.7" height="16.5" fill="rgb(182,84,69)"/><rect x="350.4" y="356.1" width="49.7" height="16.5" fill="rgb(180,83,62)"/><rect x="401.2" y="356.1" width="49.7" height="16.5" fill="rgb(184,89,64)"/><rect x="452.0" y="356.1" width="49.7" height="16.5" fill="rgb(182,84,61)"/><rect x="502.8" y="356.1" width="49.7" height="16.5" fill="rgb(185,87,61)"/><rect x="553.5" y="356.1" width="49.7" height="16.5" fill="rgb(187,88,62)"/><rect x="604.3" y="356.1" width="49.7" height="16.5" fill="rgb(189,84,64)"/><rect x="655.1" y="356.1" width="49.7" height="16.5" fill="rgb(187,88,64)"/><rect x="705.9" y="356.1" width="49.7" height="16.5" fill="rgb(185,84,64)"/><rect x="756.7" y="356.1" width="49.7" height="16.5" fill="rgb(178,88,69)"/><rect x="807.5" y="356.1" width="49.7" height="16.5" fill="rgb(180,88,66)"/><rect x="858.3" y="356.1" width="49.7" height="16.5" fill="rgb(179,84,64)"/><rect x="909.1" y="356.1" width="49.7" height="16.5" fill="rgb(189,85,61)"/><rect x="959.9" y="356.1" width="49.7" height="16.5" fill="rgb(186,82,66)"/><rect x="-29.7" y="373.8" width="49.7" height="16.1" fill="rgb(175,86,67)"/><rect x="21.1" y="373.8" width="49.7" height="16.1" fill="rgb(182,84,66)"/><rect x="71.8" y="373.8" width="49.7" height="16.1" fill="rgb(178,83,66)"/><rect x="122.6" y="373.8" width="49.7" height="16.1" fill="rgb(180,85,67)"/><rect x="173.4" y="373.8" width="49.7" height="16.1" fill="rgb(182,87,62)"/><rect x="224.2" y="373.8" width="49.7" height="16.1" fill="rgb(174,80,67)"/><rect x="275.1" y="373.8" width="49.7" height="16.1" fill="rgb(181,83,67)"/><rect x="325.9" y="373.8" width="49.7" height="16.1" fill="rgb(186,87,62)"/><rect x="376.7" y="373.8" width="49.7" height="16.1" fill="rgb(186,87,66)"/><rect x="427.5" y="373.8" width="49.7" height="16.1" fill="rgb(175,81,62)"/><rect x="478.3" y="373.8" width="49.7" height="16.1" fill="rgb(179,86,65)"/><rect x="529.0" y="373.8" width="49.7" height="16.1" fill="rgb(175,87,68)"/><rect x="579.8" y="373.8" width="49.7" height="16.1" fill="rgb(182,80,60)"/><rect x="630.6" y="373.8" width="49.7" height="16.1" fill="rgb(184,82,61)"/><rect x="681.4" y="373.8" width="49.7" height="16.1" fill="rgb(185,85,68)"/><rect x="732.2" y="373.8" width="49.7" height="16.1" fill="rgb(175,80,68)"/><rect x="783.0" y="373.8" width="49.7" height="16.1" fill="rgb(180,82,60)"/><rect x="833.8" y="373.8" width="49.7" height="16.1" fill="rgb(175,81,63)"/><rect x="884.6" y="373.8" width="49.7" height="16.1" fill="rgb(176,87,64)"/><rect x="935.4" y="373.8" width="49.7" height="16.1" fill="rgb(186,82,63)"/><rect x="-5.2" y="391.1" width="49.7" height="17.1" fill="rgb(171,82,63)"/><rect x="45.5" y="391.1" width="49.7" height="17.1" fill="rgb(172,82,63)"/><rect x="96.3" y="391.1" width="49.7" height="17.1" fill="rgb(177,79,63)"/><rect x="147.2" y="391.1" width="49.7" height="17.1" fill="rgb(178,84,62)"/><rect x="197.9" y="391.1" width="49.7" height="17.1" fill="rgb(179,81,67)"/><rect x="248.8" y="391.1" width="49.7" height="17.1" fill="rgb(173,82,64)"/><rect x="299.6" y="391.1" width="49.7" height="17.1" fill="rgb(170,80,61)"/><rect x="350.4" y="391.1" width="49.7" height="17.1" fill="rgb(176,79,63)"/><rect x="401.2" y="391.1" width="49.7" height="17.1" fill="rgb(180,82,65)"/><rect x="452.0" y="391.1" width="49.7" height="17.1" fill="rgb(172,81,60)"/><rect x="502.8" y="391.1" width="49.7" height="17.1" fill="rgb(182,85,59)"/><rect x="553.5" y="391.1" width="49.7" height="17.1" fill="rgb(180,82,66)"/><rect x="604.3" y="391.1" width="49.7" height="17.1" fill="rgb(178,85,60)"/><rect x="655.1" y="391.1" width="49.7" height="17.1" fill="rgb(174,85,65)"/><rect x="705.9" y="391.1" width="49.7" height="17.1" fill="rgb(181,82,63)"/><rect x="756.7" y="391.1" width="49.7" height="17.1" fill="rgb(176,82,61)"/><rect x="807.5" y="391.1" width="49.7" height="17.1" fill="rgb(175,82,60)"/><rect x="858.3" y="391.1" width="49.7" height="17.1" fill="rgb(177,80,61)"/><rect x="909.1" y="391.1" width="49.7" height="17.1" fill="rgb(179,77,63)"/><rect x="959.9" y="391.1" width="49.7" height="17.1" fill="rgb(178,81,63)"/><rect x="-29.7" y="409.4" width="49.7" height="16.5" fill="rgb(176,80,58)"/><rect x="21.1" y="409.4" width="49.7" height="16.5" fill="rgb(177,75,61)"/><rect x="71.8" y="409.4" width="49.7" height="16.5" fill="rgb(168,79,64)"/><rect x="122.6" y="409.4" width="49.7" height="16.5" fill="rgb(172,83,63)"/><rect x="173.4" y="409.4" width="49.7" height="16.5" fill="rgb(166,77,65)"/><rect x="224.2" y="409.4" width="49.7" height="16.5" fill="rgb(169,75,58)"/><rect x="275.1" y="409.4" width="49.7" height="16.5" fill="rgb(166,75,63)"/><rect x="325.9" y="409.4" width="49.7" height="16.5" fill="rgb(170,76,66)"/><rect x="376.7" y="409.4" width="49.7" height="16.5" fill="rgb(171,83,61)"/><rect x="427.5" y="409.4" width="49.7" height="16.5" fill="rgb(172,79,60)"/><rect x="478.3" y="409.4" width="49.7" height="16.5" fill="rgb(169,80,65)"/><rect x="529.0" y="409.4" width="49.7" height="16.5" fill="rgb(168,77,58)"/><rect x="579.8" y="409.4" width="49.7" height="16.5" fill="rgb(178,78,60)"/><rect x="630.6" y="409.4" width="49.7" height="16.5" fill="rgb(173,76,59)"/><rect x="681.4" y="409.4" width="49.7" height="16.5" fill="rgb(176,77,62)"/><rect x="732.2" y="409.4" width="49.7" height="16.5" fill="rgb(172,79,58)"/><rect x="783.0" y="409.4" width="49.7" height="16.5" fill="rgb(166,83,63)"/><rect x="833.8" y="409.4" width="49.7" height="16.5" fill="rgb(175,82,66)"/><rect x="884.6" y="409.4" width="49.7" height="16.5" fill="rgb(177,82,61)"/><rect x="935.4" y="409.4" width="49.7" height="16.5" fill="rgb(168,75,58)"/><rect x="-5.2" y="427.1" width="49.7" height="16.1" fill="rgb(162,81,57)"/><rect x="45.5" y="427.1" width="49.7" height="16.1" fill="rgb(168,75,60)"/><rect x="96.3" y="427.1" width="49.7" height="16.1" fill="rgb(164,73,58)"/><rect x="147.2" y="427.1" width="49.7" height="16.1" fill="rgb(162,81,60)"/><rect x="197.9" y="427.1" width="49.7" height="16.1" fill="rgb(164,79,60)"/><rect x="248.8" y="427.1" width="49.7" height="16.1" fill="rgb(170,81,63)"/><rect x="299.6" y="427.1" width="49.7" height="16.1" fill="rgb(171,75,65)"/><rect x="350.4" y="427.1" width="49.7" height="16.1" fill="rgb(166,74,61)"/><rect x="401.2" y="427.1" width="49.7" height="16.1" fill="rgb(172,73,64)"/><rect x="452.0" y="427.1" width="49.7" height="16.1" fill="rgb(173,81,57)"/><rect x="502.8" y="427.1" width="49.7" height="16.1" fill="rgb(168,79,64)"/><rect x="553.5" y="427.1" width="49.7" height="16.1" fill="rgb(163,80,59)"/><rect x="604.3" y="427.1" width="49.7" height="16.1" fill="rgb(165,74,61)"/><rect x="655.1" y="427.1" width="49.7" height="16.1" fill="rgb(165,73,58)"/><rect x="705.9" y="427.1" width="49.7" height="16.1" fill="rgb(167,77,57)"/><rect x="756.7" y="427.1" width="49.7" height="16.1" fill="rgb(166,81,63)"/><rect x="807.5" y="427.1" width="49.7" height="16.1" fill="rgb(172,81,61)"/><rect x="858.3" y="427.1" width="49.7" height="16.1" fill="rgb(166,76,58)"/><rect x="909.1" y="427.1" width="49.7" height="16.1" fill="rgb(170,73,59)"/><rect x="959.9" y="427.1" width="49.7" height="16.1" fill="rgb(166,76,60)"/><rect x="-29.7" y="444.4" width="49.7" height="17.0" fill="rgb(160,76,59)"/><rect x="21.1" y="444.4" width="49.7" height="17.0" fill="rgb(164,76,59)"/><rect x="71.8" y="444.4" width="49.7" height="17.0" fill="rgb(164,79,63)"/><rect x="122.6" y="444.4" width="49.7" height="17.0" fill="rgb(165,79,56)"/><rect x="173.4" y="444.4" width="49.7" height="17.0" fill="rgb(158,77,59)"/><rect x="224.2" y="444.4" width="49.7" height="17.0" fill="rgb(167,75,59)"/><rect x="275.1" y="444.4" width="49.7" height="17.0" fill="rgb(164,72,58)"/><rect x="325.9" y="444.4" width="49.7" height="17.0" fill="rgb(160,71,56)"/><rect x="376.7" y="444.4" width="49.7" height="17.0" fill="rgb(159,72,58)"/><rect x="427.5" y="444.4" width="49.7" height="17.0" fill="rgb(163,73,56)"/><rect x="478.3" y="444.4" width="49.7" height="17.0" fill="rgb(158,71,58)"/><rect x="529.0" y="444.4" width="49.7" height="17.0" fill="rgb(169,71,57)"/><rect x="579.8" y="444.4" width="49.7" height="17.0" fill="rgb(169,71,57)"/><rect x="630.6" y="444.4" width="49.7" height="17.0" fill="rgb(167,76,59)"/><rect x="681.4" y="444.4" width="49.7" height="17.0" fill="rgb(166,72,62)"/><rect x="732.2" y="444.4" width="49.7" height="17.0" fill="rgb(159,74,59)"/><rect x="783.0" y="444.4" width="49.7" height="17.0" fill="rgb(161,72,56)"/><rect x="833.8" y="444.4" width="49.7" height="17.0" fill="rgb(158,72,60)"/><rect x="884.6" y="444.4" width="49.7" height="17.0" fill="rgb(165,72,58)"/><rect x="935.4" y="444.4" width="49.7" height="17.0" fill="rgb(159,74,60)"/><rect x="-5.2" y="462.6" width="49.7" height="15.6" fill="rgb(159,74,61)"/><rect x="45.5" y="462.6" width="49.7" height="15.6" fill="rgb(158,69,60)"/><rect x="96.3" y="462.6" width="49.7" height="15.6" fill="rgb(158,73,55)"/><rect x="147.2" y="462.6" width="49.7" height="15.6" fill="rgb(165,74,60)"/><rect x="197.9" y="462.6" width="49.7" height="15.6" fill="rgb(166,77,62)"/><rect x="248.8" y="462.6" width="49.7" height="15.6" fill="rgb(158,69,61)"/><rect x="299.6" y="462.6" width="49.7" height="15.6" fill="rgb(154,75,63)"/><rect x="350.4" y="462.6" width="49.7" height="15.6" fill="rgb(166,70,60)"/><rect x="401.2" y="462.6" width="49.7" height="15.6" fill="rgb(161,69,63)"/><rect x="452.0" y="462.6" width="49.7" height="15.6" fill="rgb(163,72,56)"/><rect x="502.8" y="462.6" width="49.7" height="15.6" fill="rgb(163,73,57)"/><rect x="553.5" y="462.6" width="49.7" height="15.6" fill="rgb(160,69,63)"/><rect x="604.3" y="462.6" width="49.7" height="15.6" fill="rgb(157,73,55)"/><rect x="655.1" y="462.6" width="49.7" height="15.6" fill="rgb(154,74,62)"/><rect x="705.9" y="462.6" width="49.7" height="15.6" fill="rgb(155,76,57)"/><rect x="756.7" y="462.6" width="49.7" height="15.6" fill="rgb(161,74,63)"/><rect x="807.5" y="462.6" width="49.7" height="15.6" fill="rgb(158,71,59)"/><rect x="858.3" y="462.6" width="49.7" height="15.6" fill="rgb(157,72,62)"/><rect x="909.1" y="462.6" width="49.7" height="15.6" fill="rgb(156,70,56)"/><rect x="959.9" y="462.6" width="49.7" height="15.6" fill="rgb(161,77,56)"/><rect x="-29.7" y="479.4" width="49.7" height="16.5" fill="rgb(160,72,59)"/><rect x="21.1" y="479.4" width="49.7" height="16.5" fill="rgb(151,73,60)"/><rect x="71.8" y="479.4" width="49.7" height="16.5" fill="rgb(161,68,60)"/><rect x="122.6" y="479.4" width="49.7" height="16.5" fill="rgb(160,67,59)"/><rect x="173.4" y="479.4" width="49.7" height="16.5" fill="rgb(153,71,58)"/><rect x="224.2" y="479.4" width="49.7" height="16.5" fill="rgb(156,75,62)"/><rect x="275.1" y="479.4" width="49.7" height="16.5" fill="rgb(152,73,57)"/><rect x="325.9" y="479.4" width="49.7" height="16.5" fill="rgb(157,69,62)"/><rect x="376.7" y="479.4" width="49.7" height="16.5" fill="rgb(159,67,59)"/><rect x="427.5" y="479.4" width="49.7" height="16.5" fill="rgb(159,72,62)"/><rect x="478.3" y="479.4" width="49.7" height="16.5" fill="rgb(152,74,62)"/><rect x="529.0" y="479.4" width="49.7" height="16.5" fill="rgb(161,72,56)"/><rect x="579.8" y="479.4" width="49.7" height="16.5" fill="rgb(157,74,58)"/><rect x="630.6" y="479.4" width="49.7" height="16.5" fill="rgb(159,70,56)"/><rect x="681.4" y="479.4" width="49.7" height="16.5" fill="rgb(155,74,57)"/><rect x="732.2" y="479.4" width="49.7" height="16.5" fill="rgb(158,70,58)"/><rect x="783.0" y="479.4" width="49.7" height="16.5" fill="rgb(154,69,56)"/><rect x="833.8" y="479.4" width="49.7" height="16.5" fill="rgb(153,72,62)"/><rect x="884.6" y="479.4" width="49.7" height="16.5" fill="rgb(155,69,57)"/><rect x="935.4" y="479.4" width="49.7" height="16.5" fill="rgb(155,70,58)"/><rect x="-5.2" y="497.1" width="49.7" height="15.1" fill="rgb(157,65,55)"/><rect x="45.5" y="497.1" width="49.7" height="15.1" fill="rgb(156,65,56)"/><rect x="96.3" y="497.1" width="49.7" height="15.1" fill="rgb(152,66,55)"/><rect x="147.2" y="497.1" width="49.7" height="15.1" fill="rgb(158,68,57)"/><rect x="197.9" y="497.1" width="49.7" height="15.1" fill="rgb(152,68,56)"/><rect x="248.8" y="497.1" width="49.7" height="15.1" fill="rgb(147,65,57)"/><rect x="299.6" y="497.1" width="49.7" height="15.1" fill="rgb(149,70,60)"/><rect x="350.4" y="497.1" width="49.7" height="15.1" fill="rgb(146,64,59)"/><rect x="401.2" y="497.1" width="49.7" height="15.1" fill="rgb(158,70,56)"/><rect x="452.0" y="497.1" width="49.7" height="15.1" fill="rgb(154,68,60)"/><rect x="502.8" y="497.1" width="49.7" height="15.1" fill="rgb(146,66,57)"/><rect x="553.5" y="497.1" width="49.7" height="15.1" fill="rgb(155,70,53)"/><rect x="604.3" y="497.1" width="49.7" height="15.1" fill="rgb(157,67,59)"/><rect x="655.1" y="497.1" width="49.7" height="15.1" fill="rgb(157,70,56)"/><rect x="705.9" y="497.1" width="49.7" height="15.1" fill="rgb(156,67,55)"/><rect x="756.7" y="497.1" width="49.7" height="15.1" fill="rgb(156,65,60)"/><rect x="807.5" y="497.1" width="49.7" height="15.1" fill="rgb(152,69,57)"/><rect x="858.3" y="497.1" width="49.7" height="15.1" fill="rgb(156,65,59)"/><rect x="909.1" y="497.1" width="49.7" height="15.1" fill="rgb(149,70,55)"/><rect x="959.9" y="497.1" width="49.7" height="15.1" fill="rgb(150,70,60)"/><rect x="-29.7" y="513.4" width="49.7" height="15.7" fill="rgb(150,62,58)"/><rect x="21.1" y="513.4" width="49.7" height="15.7" fill="rgb(151,64,57)"/><rect x="71.8" y="513.4" width="49.7" height="15.7" fill="rgb(155,62,58)"/><rect x="122.6" y="513.4" width="49.7" height="15.7" fill="rgb(150,63,52)"/><rect x="173.4" y="513.4" width="49.7" height="15.7" fill="rgb(147,70,55)"/><rect x="224.2" y="513.4" width="49.7" height="15.7" fill="rgb(145,65,60)"/><rect x="275.1" y="513.4" width="49.7" height="15.7" fill="rgb(148,63,59)"/><rect x="325.9" y="513.4" width="49.7" height="15.7" fill="rgb(151,65,59)"/><rect x="376.7" y="513.4" width="49.7" height="15.7" fill="rgb(151,62,57)"/><rect x="427.5" y="513.4" width="49.7" height="15.7" fill="rgb(151,67,58)"/><rect x="478.3" y="513.4" width="49.7" height="15.7" fill="rgb(154,69,55)"/><rect x="529.0" y="513.4" width="49.7" height="15.7" fill="rgb(153,64,58)"/><rect x="579.8" y="513.4" width="49.7" height="15.7" fill="rgb(151,63,57)"/><rect x="630.6" y="513.4" width="49.7" height="15.7" fill="rgb(153,62,56)"/><rect x="681.4" y="513.4" width="49.7" height="15.7" fill="rgb(147,68,58)"/><rect x="732.2" y="513.4" width="49.7" height="15.7" fill="rgb(143,62,53)"/><rect x="783.0" y="513.4" width="49.7" height="15.7" fill="rgb(149,68,57)"/><rect x="833.8" y="513.4" width="49.7" height="15.7" fill="rgb(152,66,53)"/><rect x="884.6" y="513.4" width="49.7" height="15.7" fill="rgb(146,66,58)"/><rect x="935.4" y="513.4" width="49.7" height="15.7" fill="rgb(151,65,58)"/><rect x="-5.2" y="530.3" width="49.7" height="15.6" fill="rgb(146,63,53)"/><rect x="45.5" y="530.3" width="49.7" height="15.6" fill="rgb(141,61,54)"/><rect x="96.3" y="530.3" width="49.7" height="15.6" fill="rgb(146,68,54)"/><rect x="147.2" y="530.3" width="49.7" height="15.6" fill="rgb(141,65,57)"/><rect x="197.9" y="530.3" width="49.7" height="15.6" fill="rgb(146,64,59)"/><rect x="248.8" y="530.3" width="49.7" height="15.6" fill="rgb(149,62,58)"/><rect x="299.6" y="530.3" width="49.7" height="15.6" fill="rgb(144,63,55)"/><rect x="350.4" y="530.3" width="49.7" height="15.6" fill="rgb(150,66,55)"/><rect x="401.2" y="530.3" width="49.7" height="15.6" fill="rgb(145,62,58)"/><rect x="452.0" y="530.3" width="49.7" height="15.6" fill="rgb(139,64,56)"/><rect x="502.8" y="530.3" width="49.7" height="15.6" fill="rgb(142,64,56)"/><rect x="553.5" y="530.3" width="49.7" height="15.6" fill="rgb(146,67,57)"/><rect x="604.3" y="530.3" width="49.7" height="15.6" fill="rgb(148,61,56)"/><rect x="655.1" y="530.3" width="49.7" height="15.6" fill="rgb(141,64,57)"/><rect x="705.9" y="530.3" width="49.7" height="15.6" fill="rgb(139,61,56)"/><rect x="756.7" y="530.3" width="49.7" height="15.6" fill="rgb(151,62,59)"/><rect x="807.5" y="530.3" width="49.7" height="15.6" fill="rgb(144,60,51)"/><rect x="858.3" y="530.3" width="49.7" height="15.6" fill="rgb(142,61,55)"/><rect x="909.1" y="530.3" width="49.7" height="15.6" fill="rgb(143,61,53)"/><rect x="959.9" y="530.3" width="49.7" height="15.6" fill="rgb(142,62,58)"/>
<rect x="0" y="0" width="960" height="546" filter="url(#bnoise)" opacity="0.18"/>
<rect x="0" y="545" width="960" height="175" fill="#867d78"/>
<rect x="0" y="545" width="960" height="175" filter="url(#noise)"/>
<linearGradient id="pg" x1="0" y1="0" x2="0" y2="1"><stop offset="0" stop-color="#3c302a" stop-opacity="0.55"/><stop offset="1" stop-color="#3c302a" stop-opacity="0"/></linearGradient>
<rect x="0" y="544" width="960" height="18" fill="url(#pg)"/>
<circle cx="322" cy="-0.5" r="4.5" fill="#ddd" stroke="#999" stroke-width="1.5"/>
<g fill="none" stroke-linecap="round" stroke-linejoin="round">
<g transform="translate(2.2,2.2)" stroke="#d8262a" stroke-width="18"><path d="M334.5,43 L374.5,43"/><path d="M331.5,61.6 L371.5,61.6"/><path d="M346.8,30 L341.7,83.5"/><path d="M367.2,29 L361.7,82"/><path d="M393.5,101.5 L393.3,25 L421.7,105 L427.3,22"/><ellipse cx="458.6" cy="72.8" rx="17.6" ry="20.8"/><path d="M498,29 L495,95 Q495,106 510,99"/><path d="M484,65 L518,65"/><path d="M538.5,49 L537,103"/><path d="M528,47 L550.5,47"/><path d="M527,103 L546.5,103"/><path d="M561.5,65 L562,110"/><path d="M562,78 Q576,53 588.5,72 L589.5,113"/><path d="M610.4,111.5 L616,44.5 L637,87.5 L661,49 L662.5,120"/><path d="M687,78 L689,123"/><path d="M687.2,59 L688.8,59.2"/><path d="M732,82 C728,74 712,70 707,84 C703,96 733,100 733,114 C733,128 710,130 705,119"/><path d="M776,85 C772,77 756,73 751,87 C747,99 777,103 777,117 C777,131 754,133 749,122"/><ellipse cx="818.5" cy="104" rx="27.3" ry="35.8" transform="rotate(9 818.5 104)"/><path d="M860.5,93 L862.5,123 Q866,138 886,124"/><path d="M886.3,106 L888.3,139"/><path d="M917,72 L912,136 Q913,147 925,138"/><path d="M902,107.3 L934,107"/></g>
<g transform="translate(-2,-2)" stroke="#2a94d6" stroke-width="18"><path d="M334.5,43 L374.5,43"/><path d="M331.5,61.6 L371.5,61.6"/><path d="M346.8,30 L341.7,83.5"/><path d="M367.2,29 L361.7,82"/><path d="M393.5,101.5 L393.3,25 L421.7,105 L427.3,22"/><ellipse cx="458.6" cy="72.8" rx="17.6" ry="20.8"/><path d="M498,29 L495,95 Q495,106 510,99"/><path d="M484,65 L518,65"/><path d="M538.5,49 L537,103"/><path d="M528,47 L550.5,47"/><path d="M527,103 L546.5,103"/><path d="M561.5,65 L562,110"/><path d="M562,78 Q576,53 588.5,72 L589.5,113"/><path d="M610.4,111.5 L616,44.5 L637,87.5 L661,49 L662.5,120"/><path d="M687,78 L689,123"/><path d="M687.2,59 L688.8,59.2"/><path d="M732,82 C728,74 712,70 707,84 C703,96 733,100 733,114 C733,128 710,130 705,119"/><path d="M776,85 C772,77 756,73 751,87 C747,99 777,103 777,117 C777,131 754,133 749,122"/><ellipse cx="818.5" cy="104" rx="27.3" ry="35.8" transform="rotate(9 818.5 104)"/><path d="M860.5,93 L862.5,123 Q866,138 886,124"/><path d="M886.3,106 L888.3,139"/><path d="M917,72 L912,136 Q913,147 925,138"/><path d="M902,107.3 L934,107"/></g>
<g stroke="#0b0b0b" stroke-width="17"><path d="M334.5,43 L374.5,43"/><path d="M331.5,61.6 L371.5,61.6"/><path d="M346.8,30 L341.7,83.5"/><path d="M367.2,29 L361.7,82"/><path d="M393.5,101.5 L393.3,25 L421.7,105 L427.3,22"/><ellipse cx="458.6" cy="72.8" rx="17.6" ry="20.8"/><path d="M498,29 L495,95 Q495,106 510,99"/><path d="M484,65 L518,65"/><path d="M538.5,49 L537,103"/><path d="M528,47 L550.5,47"/><path d="M527,103 L546.5,103"/><path d="M561.5,65 L562,110"/><path d="M562,78 Q576,53 588.5,72 L589.5,113"/><path d="M610.4,111.5 L616,44.5 L637,87.5 L661,49 L662.5,120"/><path d="M687,78 L689,123"/><path d="M687.2,59 L688.8,59.2"/><path d="M732,82 C728,74 712,70 707,84 C703,96 733,100 733,114 C733,128 710,130 705,119"/><path d="M776,85 C772,77 756,73 751,87 C747,99 777,103 777,117 C777,131 754,133 749,122"/><ellipse cx="818.5" cy="104" rx="27.3" ry="35.8" transform="rotate(9 818.5 104)"/><path d="M860.5,93 L862.5,123 Q866,138 886,124"/><path d="M886.3,106 L888.3,139"/><path d="M917,72 L912,136 Q913,147 925,138"/><path d="M902,107.3 L934,107"/></g>
<g stroke-width="7.2"><g stroke="#ec5a22" stroke-width="6.6"><path d="M334.5,43 L374.5,43"/><path d="M331.5,61.6 L371.5,61.6"/><path d="M346.8,30 L341.7,83.5"/><path d="M367.2,29 L361.7,82"/></g><g stroke="#8cc898"><path d="M393.5,101.5 L393.3,25 L421.7,105 L427.3,22"/><ellipse cx="458.6" cy="72.8" rx="17.6" ry="20.8"/><path d="M498,29 L495,95 Q495,106 510,99"/><path d="M484,65 L518,65"/></g><g stroke="#f9cc94"><path d="M538.5,49 L537,103"/><path d="M528,47 L550.5,47"/><path d="M527,103 L546.5,103"/><path d="M561.5,65 L562,110"/><path d="M562,78 Q576,53 588.5,72 L589.5,113"/></g><g stroke="#86c8c8"><path d="M610.4,111.5 L616,44.5 L637,87.5 L661,49 L662.5,120"/><path d="M687,78 L689,123"/><path d="M687.2,59 L688.8,59.2"/><path d="M732,82 C728,74 712,70 707,84 C703,96 733,100 733,114 C733,128 710,130 705,119"/><path d="M776,85 C772,77 756,73 751,87 C747,99 777,103 777,117 C777,131 754,133 749,122"/></g><g stroke="#f8f09a"><ellipse cx="818.5" cy="104" rx="27.3" ry="35.8" transform="rotate(9 818.5 104)"/><path d="M860.5,93 L862.5,123 Q866,138 886,124"/><path d="M886.3,106 L888.3,139"/><path d="M917,72 L912,136 Q913,147 925,138"/><path d="M902,107.3 L934,107"/></g></g>
</g>
<!-- panel -->
<rect x="21.5" y="155.5" width="918" height="549" rx="88" ry="88" fill="#ffffff" stroke="#34466e" stroke-width="1"/>
<g>
<path d="M140.5,196.5 Q145,184.5 156.5,183 Q168,184 173,196" fill="none" stroke="#c42a30" stroke-width="2.2" stroke-dasharray="1.5 0.5"/>
<rect x="151" y="190.5" width="10.5" height="16.5" fill="#7b7b78"/>
<path d="M149,191.5 Q152,189 156,190 L155,196 L153,206 L149.5,206 Z" fill="#3b7446"/>
<rect x="155.5" y="194" width="2" height="2" fill="#555"/><rect x="157" y="199" width="2.5" height="2" fill="#555"/>
<path d="M156.5,186 L165,191 L163.8,192.8 L155.5,188.5 Z" fill="#3a3a3a"/>
<rect x="147.5" y="206.5" width="17.5" height="13.5" fill="#cfcfcc" stroke="#9a9a98" stroke-width="0.6"/>
<path d="M151,209 L153,213 L151,217 L149,213 Z" fill="#b83a34"/>
<path d="M161.5,209 L163.3,213 L161.5,217 L159.7,213 Z" fill="#b83a34"/>
<rect x="155" y="210" width="3.5" height="5" fill="#b8a860"/>
<path d="M141.5,222.9 L171.3,222.9" stroke="#c42a30" stroke-width="2.2" stroke-dasharray="1.6 0.5"/>
</g>
<!-- boxes -->
<rect x="192" y="179.5" width="590.5" height="46.5" fill="#e25718" stroke="#111" stroke-width="2.5"/>
<rect x="116.3" y="243.8" width="256.8" height="438.4" fill="#91c596" stroke="#111" stroke-width="2.8"/>
<rect x="384.2" y="244.6" width="254.5" height="437.6" fill="#fac88e" stroke="#111" stroke-width="2.5"/>
<rect x="648.7" y="256.3" width="186" height="246.5" fill="#89cfcb" stroke="#111" stroke-width="2.5"/>
<rect x="651.2" y="516.2" width="186.8" height="147.6" fill="#fff298" stroke="#111" stroke-width="2.5"/>
<text x="170.10" y="61.80" font-size="30.21" font-weight="bold" font-style="normal" text-anchor="middle" fill="#fff" stroke="#fff" stroke-width="0.30" textLength="256.02" lengthAdjust="spacingAndGlyphs">Weekly Attendance</text>
<text x="171.00" y="102.90" font-size="30.21" font-weight="bold" font-style="normal" text-anchor="middle" fill="#fff" stroke="#fff" stroke-width="0.30" textLength="287.05" lengthAdjust="spacingAndGlyphs">and Punctuality News</text>
<text x="487.00" y="207.70" font-size="22.83" font-weight="bold" font-style="normal" text-anchor="middle" fill="#140a06" stroke="#140a06" stroke-width="0.30" textLength="434.13" lengthAdjust="spacingAndGlyphs">Week Commencing - 11th September 2023</text>
<text x="243.90" y="260.80" font-size="11.21" font-weight="bold" font-style="normal" text-anchor="middle" fill="#0c180e" stroke="#0c180e" stroke-width="0.30" textLength="64.10" lengthAdjust="spacingAndGlyphs">Attendance</text>
<rect x="211.85" y="262.15" width="64.10" height="1.08" fill="#0c180e"/>
<text x="243.90" y="277.66" font-size="11.21" font-weight="normal" font-style="italic" text-anchor="middle" fill="#0c180e" stroke="#0c180e" stroke-width="0.25" textLength="110.15" lengthAdjust="spacingAndGlyphs">School Target 94.8%</text>
<text x="243.90" y="310.78" font-size="11.21" font-weight="bold" font-style="normal" text-anchor="middle" fill="#0c180e" stroke="#0c180e" stroke-width="0.30" textLength="103.40" lengthAdjust="spacingAndGlyphs">Progression Step 1</text>
<rect x="192.20" y="312.26" width="103.40" height="1.08" fill="#0c180e"/>
<text x="125.20" y="327.04" font-size="11.47" font-weight="normal" font-style="normal" text-anchor="start" fill="#0c180e" stroke="#0c180e" stroke-width="0.25" textLength="90.34" lengthAdjust="spacingAndGlyphs">Bumblebees AM</text>
<text x="258.20" y="327.04" font-size="11.47" font-weight="normal" font-style="normal" text-anchor="start" fill="#0c180e" stroke="#0c180e" stroke-width="0.25" textLength="40.43" lengthAdjust="spacingAndGlyphs">99.33%</text>
<text x="125.20" y="343.60" font-size="11.47" font-weight="normal" font-style="normal" text-anchor="start" fill="#0c180e" stroke="#0c180e" stroke-width="0.25" textLength="89.51" lengthAdjust="spacingAndGlyphs">Bumblebees PM</text>
<text x="258.20" y="343.60" font-size="11.47" font-weight="normal" font-style="normal" text-anchor="start" fill="#0c180e" stroke="#0c180e" stroke-width="0.25" textLength="40.43" lengthAdjust="spacingAndGlyphs">64.29%</text>
<text x="125.20" y="360.16" font-size="11.47" font-weight="normal" font-style="normal" text-anchor="start" fill="#0c180e" stroke="#0c180e" stroke-width="0.25" textLength="83.77" lengthAdjust="spacingAndGlyphs">Bumblebees FT</text>
<text x="258.20" y="360.16" font-size="11.47" font-weight="normal" font-style="normal" text-anchor="start" fill="#0c180e" stroke="#0c180e" stroke-width="0.25" textLength="30.18" lengthAdjust="spacingAndGlyphs">100%</text>
<text x="125.20" y="376.72" font-size="11.47" font-weight="normal" font-style="normal" text-anchor="start" fill="#0c180e" stroke="#0c180e" stroke-width="0.25" textLength="30.36" lengthAdjust="spacingAndGlyphs">Foxes</text>
<text x="258.20" y="376.72" font-size="11.47" font-weight="normal" font-style="normal" text-anchor="start" fill="#0c180e" stroke="#0c180e" stroke-width="0.25" textLength="40.43" lengthAdjust="spacingAndGlyphs">99.57%</text>
<text x="125.20" y="393.28" font-size="11.47" font-weight="normal" font-style="normal" text-anchor="start" fill="#0c180e" stroke="#0c180e" stroke-width="0.25" textLength="23.49" lengthAdjust="spacingAndGlyphs">Bats</text>
<text x="258.20" y="393.28" font-size="11.47" font-weight="normal" font-style="normal" text-anchor="start" fill="#0c180e" stroke="#0c180e" stroke-width="0.25" textLength="40.43" lengthAdjust="spacingAndGlyphs">85.22%</text>
<text x="243.90" y="426.70" font-size="11.21" font-weight="bold" font-style="normal" text-anchor="middle" fill="#0c180e" stroke="#0c180e" stroke-width="0.30" textLength="103.40" lengthAdjust="spacingAndGlyphs">Progression Step 2</text>
<rect x="192.20" y="428.18" width="103.40" height="1.08" fill="#0c180e"/>
<text x="125.20" y="442.96" font-size="11.47" font-weight="normal" font-style="normal" text-anchor="start" fill="#0c180e" stroke="#0c180e" stroke-width="0.25" textLength="55.63" lengthAdjust="spacingAndGlyphs">Barn Owls</text>
<text x="258.20" y="442.96" font-size="11.47" font-weight="normal" font-style="normal" text-anchor="start" fill="#0c180e" stroke="#0c180e" stroke-width="0.25" textLength="40.43" lengthAdjust="spacingAndGlyphs">93.33%</text>
<text x="125.20" y="459.52" font-size="11.47" font-weight="normal" font-style="normal" text-anchor="start" fill="#0c180e" stroke="#0c180e" stroke-width="0.25" textLength="33.76" lengthAdjust="spacingAndGlyphs">Moles</text>
<text x="258.20" y="459.52" font-size="11.47" font-weight="normal" font-style="normal" text-anchor="start" fill="#0c180e" stroke="#0c180e" stroke-width="0.25" textLength="40.43" lengthAdjust="spacingAndGlyphs">96.96%</text>
<text x="125.20" y="476.08" font-size="11.47" font-weight="normal" font-style="normal" text-anchor="start" fill="#0c180e" stroke="#0c180e" stroke-width="0.25" textLength="43.62" lengthAdjust="spacingAndGlyphs">Badgers</text>
<text x="258.20" y="476.08" font-size="11.47" font-weight="normal" font-style="normal" text-anchor="start" fill="#0c180e" stroke="#0c180e" stroke-width="0.25" textLength="40.43" lengthAdjust="spacingAndGlyphs">98.18%</text>
<text x="125.20" y="492.64" font-size="11.47" font-weight="normal" font-style="normal" text-anchor="start" fill="#0c180e" stroke="#0c180e" stroke-width="0.25" textLength="74.47" lengthAdjust="spacingAndGlyphs">Woodpeckers</text>
<text x="258.20" y="492.64" font-size="11.47" font-weight="normal" font-style="normal" text-anchor="start" fill="#0c180e" stroke="#0c180e" stroke-width="0.25" textLength="40.43" lengthAdjust="spacingAndGlyphs">88.85%</text>
<text x="125.20" y="509.20" font-size="11.47" font-weight="normal" font-style="normal" text-anchor="start" fill="#0c180e" stroke="#0c180e" stroke-width="0.25" textLength="71.77" lengthAdjust="spacingAndGlyphs">Red Squirrels</text>
<text x="258.20" y="509.20" font-size="11.47" font-weight="normal" font-style="normal" text-anchor="start" fill="#0c180e" stroke="#0c180e" stroke-width="0.25" textLength="40.43" lengthAdjust="spacingAndGlyphs">93.21%</text>
<text x="125.20" y="525.76" font-size="11.47" font-weight="normal" font-style="normal" text-anchor="start" fill="#0c180e" stroke="#0c180e" stroke-width="0.25" textLength="61.84" lengthAdjust="spacingAndGlyphs">Dragonflies</text>
<text x="258.20" y="525.76" font-size="11.47" font-weight="normal" font-style="normal" text-anchor="start" fill="#0c180e" stroke="#0c180e" stroke-width="0.25" textLength="33.59" lengthAdjust="spacingAndGlyphs">93.6%</text>
<text x="243.90" y="559.18" font-size="11.21" font-weight="bold" font-style="normal" text-anchor="middle" fill="#0c180e" stroke="#0c180e" stroke-width="0.30" textLength="103.40" lengthAdjust="spacingAndGlyphs">Progression Step 3</text>
<rect x="192.20" y="560.66" width="103.40" height="1.08" fill="#0c180e"/>
<text x="125.20" y="575.44" font-size="11.47" font-weight="normal" font-style="normal" text-anchor="start" fill="#0c180e" stroke="#0c180e" stroke-width="0.25" textLength="59.55" lengthAdjust="spacingAndGlyphs">Kingfishers</text>
<text x="258.20" y="575.44" font-size="11.47" font-weight="normal" font-style="normal" text-anchor="start" fill="#0c180e" stroke="#0c180e" stroke-width="0.25" textLength="40.43" lengthAdjust="spacingAndGlyphs">88.33%</text>
<text x="125.20" y="592.00" font-size="11.47" font-weight="normal" font-style="normal" text-anchor="start" fill="#0c180e" stroke="#0c180e" stroke-width="0.25" textLength="48.24" lengthAdjust="spacingAndGlyphs">Buzzards</text>
<text x="258.20" y="592.00" font-size="11.47" font-weight="normal" font-style="normal" text-anchor="start" fill="#0c180e" stroke="#0c180e" stroke-width="0.25" textLength="40.43" lengthAdjust="spacingAndGlyphs">92.86%</text>
<text x="125.20" y="608.56" font-size="11.47" font-weight="normal" font-style="normal" text-anchor="start" fill="#0c180e" stroke="#0c180e" stroke-width="0.25" textLength="33.83" lengthAdjust="spacingAndGlyphs">Otters</text>
<text x="258.20" y="608.56" font-size="11.47" font-weight="normal" font-style="normal" text-anchor="start" fill="#0c180e" stroke="#0c180e" stroke-width="0.25" textLength="23.34" lengthAdjust="spacingAndGlyphs">90%</text>
<text x="125.20" y="625.12" font-size="11.47" font-weight="normal" font-style="normal" text-anchor="start" fill="#0c180e" stroke="#0c180e" stroke-width="0.25" textLength="46.44" lengthAdjust="spacingAndGlyphs">Dormice</text>
<text x="258.20" y="625.12" font-size="11.47" font-weight="normal" font-style="normal" text-anchor="start" fill="#0c180e" stroke="#0c180e" stroke-width="0.25" textLength="40.43" lengthAdjust="spacingAndGlyphs">89.57%</text>
<text x="125.20" y="641.68" font-size="11.47" font-weight="normal" font-style="normal" text-anchor="start" fill="#0c180e" stroke="#0c180e" stroke-width="0.25" textLength="64.52" lengthAdjust="spacingAndGlyphs">Tawny Owls</text>
<text x="258.20" y="641.68" font-size="11.47" font-weight="normal" font-style="normal" text-anchor="start" fill="#0c180e" stroke="#0c180e" stroke-width="0.25" textLength="37.02" lengthAdjust="spacingAndGlyphs">8929%</text>
<text x="125.20" y="658.24" font-size="11.47" font-weight="normal" font-style="normal" text-anchor="start" fill="#0c180e" stroke="#0c180e" stroke-width="0.25" textLength="50.44" lengthAdjust="spacingAndGlyphs">Red Kites</text>
<text x="258.20" y="658.24" font-size="11.47" font-weight="normal" font-style="normal" text-anchor="start" fill="#0c180e" stroke="#0c180e" stroke-width="0.25" textLength="40.43" lengthAdjust="spacingAndGlyphs">94.19%</text>
<text x="510.80" y="261.30" font-size="11.21" font-weight="bold" font-style="normal" text-anchor="middle" fill="#22160a" stroke="#22160a" stroke-width="0.30" textLength="63.62" lengthAdjust="spacingAndGlyphs">Punctuality</text>
<rect x="478.99" y="262.65" width="63.62" height="1.08" fill="#22160a"/>
<text x="510.80" y="278.16" font-size="11.21" font-weight="normal" font-style="italic" text-anchor="middle" fill="#22160a" stroke="#22160a" stroke-width="0.25" textLength="107.13" lengthAdjust="spacingAndGlyphs">Class Target 0 Lates</text>
<text x="510.80" y="311.28" font-size="11.21" font-weight="bold" font-style="normal" text-anchor="middle" fill="#22160a" stroke="#22160a" stroke-width="0.30" textLength="103.40" lengthAdjust="spacingAndGlyphs">Progression Step 1</text>
<rect x="459.10" y="312.76" width="103.40" height="1.08" fill="#22160a"/>
<text x="393.20" y="327.54" font-size="11.47" font-weight="normal" font-style="normal" text-anchor="start" fill="#22160a" stroke="#22160a" stroke-width="0.25" textLength="90.34" lengthAdjust="spacingAndGlyphs">Bumblebees AM</text>
<text x="525.90" y="327.54" font-size="11.47" font-weight="normal" font-style="normal" text-anchor="start" fill="#22160a" stroke="#22160a" stroke-width="0.25" textLength="6.84" lengthAdjust="spacingAndGlyphs">1</text>
<text x="393.20" y="344.10" font-size="11.47" font-weight="normal" font-style="normal" text-anchor="start" fill="#22160a" stroke="#22160a" stroke-width="0.25" textLength="89.51" lengthAdjust="spacingAndGlyphs">Bumblebees PM</text>
<text x="525.90" y="344.10" font-size="11.47" font-weight="normal" font-style="normal" text-anchor="start" fill="#22160a" stroke="#22160a" stroke-width="0.25" textLength="6.84" lengthAdjust="spacingAndGlyphs">0</text>
<text x="393.20" y="360.66" font-size="11.47" font-weight="normal" font-style="normal" text-anchor="start" fill="#22160a" stroke="#22160a" stroke-width="0.25" textLength="83.77" lengthAdjust="spacingAndGlyphs">Bumblebees FT</text>
<text x="525.90" y="360.66" font-size="11.47" font-weight="normal" font-style="normal" text-anchor="start" fill="#22160a" stroke="#22160a" stroke-width="0.25" textLength="6.84" lengthAdjust="spacingAndGlyphs">1</text>
<text x="393.20" y="377.22" font-size="11.47" font-weight="normal" font-style="normal" text-anchor="start" fill="#22160a" stroke="#22160a" stroke-width="0.25" textLength="30.36" lengthAdjust="spacingAndGlyphs">Foxes</text>
<text x="525.90" y="377.22" font-size="11.47" font-weight="normal" font-style="normal" text-anchor="start" fill="#22160a" stroke="#22160a" stroke-width="0.25" textLength="6.84" lengthAdjust="spacingAndGlyphs">1</text>
<text x="393.20" y="393.78" font-size="11.47" font-weight="normal" font-style="normal" text-anchor="start" fill="#22160a" stroke="#22160a" stroke-width="0.25" textLength="23.49" lengthAdjust="spacingAndGlyphs">Bats</text>
<text x="525.90" y="393.78" font-size="11.47" font-weight="normal" font-style="normal" text-anchor="start" fill="#22160a" stroke="#22160a" stroke-width="0.25" textLength="6.84" lengthAdjust="spacingAndGlyphs">3</text>
<text x="510.80" y="427.20" font-size="11.21" font-weight="bold" font-style="normal" text-anchor="middle" fill="#22160a" stroke="#22160a" stroke-width="0.30" textLength="103.40" lengthAdjust="spacingAndGlyphs">Progression Step 2</text>
<rect x="459.10" y="428.68" width="103.40" height="1.08" fill="#22160a"/>
<text x="393.20" y="443.46" font-size="11.47" font-weight="normal" font-style="normal" text-anchor="start" fill="#22160a" stroke="#22160a" stroke-width="0.25" textLength="55.63" lengthAdjust="spacingAndGlyphs">Barn Owls</text>
<text x="525.90" y="443.46" font-size="11.47" font-weight="normal" font-style="normal" text-anchor="start" fill="#22160a" stroke="#22160a" stroke-width="0.25" textLength="6.84" lengthAdjust="spacingAndGlyphs">1</text>
<text x="393.20" y="460.02" font-size="11.47" font-weight="normal" font-style="normal" text-anchor="start" fill="#22160a" stroke="#22160a" stroke-width="0.25" textLength="33.76" lengthAdjust="spacingAndGlyphs">Moles</text>
<text x="525.90" y="460.02" font-size="11.47" font-weight="normal" font-style="normal" text-anchor="start" fill="#22160a" stroke="#22160a" stroke-width="0.25" textLength="6.84" lengthAdjust="spacingAndGlyphs">1</text>
<text x="393.20" y="476.58" font-size="11.47" font-weight="normal" font-style="normal" text-anchor="start" fill="#22160a" stroke="#22160a" stroke-width="0.25" textLength="43.62" lengthAdjust="spacingAndGlyphs">Badgers</text>
<text x="525.90" y="476.58" font-size="11.47" font-weight="normal" font-style="normal" text-anchor="start" fill="#22160a" stroke="#22160a" stroke-width="0.25" textLength="6.84" lengthAdjust="spacingAndGlyphs">4</text>
<text x="393.20" y="493.14" font-size="11.47" font-weight="normal" font-style="normal" text-anchor="start" fill="#22160a" stroke="#22160a" stroke-width="0.25" textLength="74.47" lengthAdjust="spacingAndGlyphs">Woodpeckers</text>
<text x="525.90" y="493.14" font-size="11.47" font-weight="normal" font-style="normal" text-anchor="start" fill="#22160a" stroke="#22160a" stroke-width="0.25" textLength="6.84" lengthAdjust="spacingAndGlyphs">2</text>
<text x="393.20" y="509.70" font-size="11.47" font-weight="normal" font-style="normal" text-anchor="start" fill="#22160a" stroke="#22160a" stroke-width="0.25" textLength="71.77" lengthAdjust="spacingAndGlyphs">Red Squirrels</text>
<text x="525.90" y="509.70" font-size="11.47" font-weight="normal" font-style="normal" text-anchor="start" fill="#22160a" stroke="#22160a" stroke-width="0.25" textLength="6.84" lengthAdjust="spacingAndGlyphs">2</text>
<text x="393.20" y="526.26" font-size="11.47" font-weight="normal" font-style="normal" text-anchor="start" fill="#22160a" stroke="#22160a" stroke-width="0.25" textLength="61.84" lengthAdjust="spacingAndGlyphs">Dragonflies</text>
<text x="525.90" y="526.26" font-size="11.47" font-weight="normal" font-style="normal" text-anchor="start" fill="#22160a" stroke="#22160a" stroke-width="0.25" textLength="6.84" lengthAdjust="spacingAndGlyphs">0</text>
<text x="510.80" y="559.68" font-size="11.21" font-weight="bold" font-style="normal" text-anchor="middle" fill="#22160a" stroke="#22160a" stroke-width="0.30" textLength="103.40" lengthAdjust="spacingAndGlyphs">Progression Step 3</text>
<rect x="459.10" y="561.16" width="103.40" height="1.08" fill="#22160a"/>
<text x="393.20" y="575.94" font-size="11.47" font-weight="normal" font-style="normal" text-anchor="start" fill="#22160a" stroke="#22160a" stroke-width="0.25" textLength="59.55" lengthAdjust="spacingAndGlyphs">Kingfishers</text>
<text x="525.90" y="575.94" font-size="11.47" font-weight="normal" font-style="normal" text-anchor="start" fill="#22160a" stroke="#22160a" stroke-width="0.25" textLength="6.84" lengthAdjust="spacingAndGlyphs">0</text>
<text x="393.20" y="592.50" font-size="11.47" font-weight="normal" font-style="normal" text-anchor="start" fill="#22160a" stroke="#22160a" stroke-width="0.25" textLength="48.24" lengthAdjust="spacingAndGlyphs">Buzzards</text>
<text x="525.90" y="592.50" font-size="11.47" font-weight="normal" font-style="normal" text-anchor="start" fill="#22160a" stroke="#22160a" stroke-width="0.25" textLength="6.84" lengthAdjust="spacingAndGlyphs">0</text>
<text x="393.20" y="609.06" font-size="11.47" font-weight="normal" font-style="normal" text-anchor="start" fill="#22160a" stroke="#22160a" stroke-width="0.25" textLength="33.83" lengthAdjust="spacingAndGlyphs">Otters</text>
<text x="525.90" y="609.06" font-size="11.47" font-weight="normal" font-style="normal" text-anchor="start" fill="#22160a" stroke="#22160a" stroke-width="0.25" textLength="6.84" lengthAdjust="spacingAndGlyphs">3</text>
<text x="393.20" y="625.62" font-size="11.47" font-weight="normal" font-style="normal" text-anchor="start" fill="#22160a" stroke="#22160a" stroke-width="0.25" textLength="46.44" lengthAdjust="spacingAndGlyphs">Dormice</text>
<text x="525.90" y="625.62" font-size="11.47" font-weight="normal" font-style="normal" text-anchor="start" fill="#22160a" stroke="#22160a" stroke-width="0.25" textLength="6.84" lengthAdjust="spacingAndGlyphs">3</text>
<text x="393.20" y="642.18" font-size="11.47" font-weight="normal" font-style="normal" text-anchor="start" fill="#22160a" stroke="#22160a" stroke-width="0.25" textLength="64.52" lengthAdjust="spacingAndGlyphs">Tawny Owls</text>
<text x="525.90" y="642.18" font-size="11.47" font-weight="normal" font-style="normal" text-anchor="start" fill="#22160a" stroke="#22160a" stroke-width="0.25" textLength="6.84" lengthAdjust="spacingAndGlyphs">2</text>
<text x="393.20" y="658.74" font-size="11.47" font-weight="normal" font-style="normal" text-anchor="start" fill="#22160a" stroke="#22160a" stroke-width="0.25" textLength="50.44" lengthAdjust="spacingAndGlyphs">Red Kites</text>
<text x="525.90" y="658.74" font-size="11.47" font-weight="normal" font-style="normal" text-anchor="start" fill="#22160a" stroke="#22160a" stroke-width="0.25" textLength="6.84" lengthAdjust="spacingAndGlyphs">0</text>
<text x="741.50" y="284.00" font-size="22.83" font-weight="bold" font-style="normal" text-anchor="middle" fill="#000" stroke="#000" stroke-width="0.30" textLength="161.23" lengthAdjust="spacingAndGlyphs">Congratulations</text>
<rect x="660.88" y="287.07" width="161.23" height="1.96" fill="#000"/>
<text x="741.20" y="335.00" font-size="12.64" font-weight="bold" font-style="normal" text-anchor="middle" fill="#061410" stroke="#061410" stroke-width="0.30" textLength="112.59" lengthAdjust="spacingAndGlyphs">Progression Step 1</text>
<rect x="684.91" y="336.84" width="112.59" height="1.18" fill="#061410"/>
<text x="741.20" y="352.50" font-size="13.23" font-weight="normal" font-style="normal" text-anchor="middle" fill="#0a1a18" stroke="#0a1a18" stroke-width="0.25" textLength="33.06" lengthAdjust="spacingAndGlyphs">Foxes</text>
<text x="741.20" y="389.00" font-size="12.64" font-weight="bold" font-style="normal" text-anchor="middle" fill="#061410" stroke="#061410" stroke-width="0.30" textLength="112.59" lengthAdjust="spacingAndGlyphs">Progression Step 2</text>
<rect x="684.91" y="390.84" width="112.59" height="1.18" fill="#061410"/>
<text x="741.20" y="406.50" font-size="13.23" font-weight="normal" font-style="normal" text-anchor="middle" fill="#0a1a18" stroke="#0a1a18" stroke-width="0.25" textLength="47.50" lengthAdjust="spacingAndGlyphs">Badgers</text>
<text x="741.20" y="442.50" font-size="12.64" font-weight="bold" font-style="normal" text-anchor="middle" fill="#061410" stroke="#061410" stroke-width="0.30" textLength="112.59" lengthAdjust="spacingAndGlyphs">Progression Step 3</text>
<rect x="684.91" y="444.34" width="112.59" height="1.18" fill="#061410"/>
<text x="741.20" y="461.00" font-size="13.23" font-weight="normal" font-style="normal" text-anchor="middle" fill="#0a1a18" stroke="#0a1a18" stroke-width="0.25" textLength="54.93" lengthAdjust="spacingAndGlyphs">Red Kites</text>
<text x="744.00" y="539.80" font-size="18.47" font-weight="bold" font-style="normal" text-anchor="middle" fill="#111" stroke="#111" stroke-width="0.30" textLength="112.09" lengthAdjust="spacingAndGlyphs">Whole School</text>
<rect x="687.96" y="541.57" width="112.09" height="1.57" fill="#111"/>
<text x="744.40" y="563.20" font-size="18.47" font-weight="bold" font-style="normal" text-anchor="middle" fill="#111" stroke="#111" stroke-width="0.30" textLength="93.30" lengthAdjust="spacingAndGlyphs">Attendance</text>
<rect x="697.75" y="564.97" width="93.30" height="1.57" fill="#111"/>
<text x="743.90" y="611.30" font-size="18.47" font-weight="bold" font-style="normal" text-anchor="middle" fill="#111" stroke="#111" stroke-width="0.30" textLength="59.41" lengthAdjust="spacingAndGlyphs">91.06%</text>
</svg>
</body></html>
